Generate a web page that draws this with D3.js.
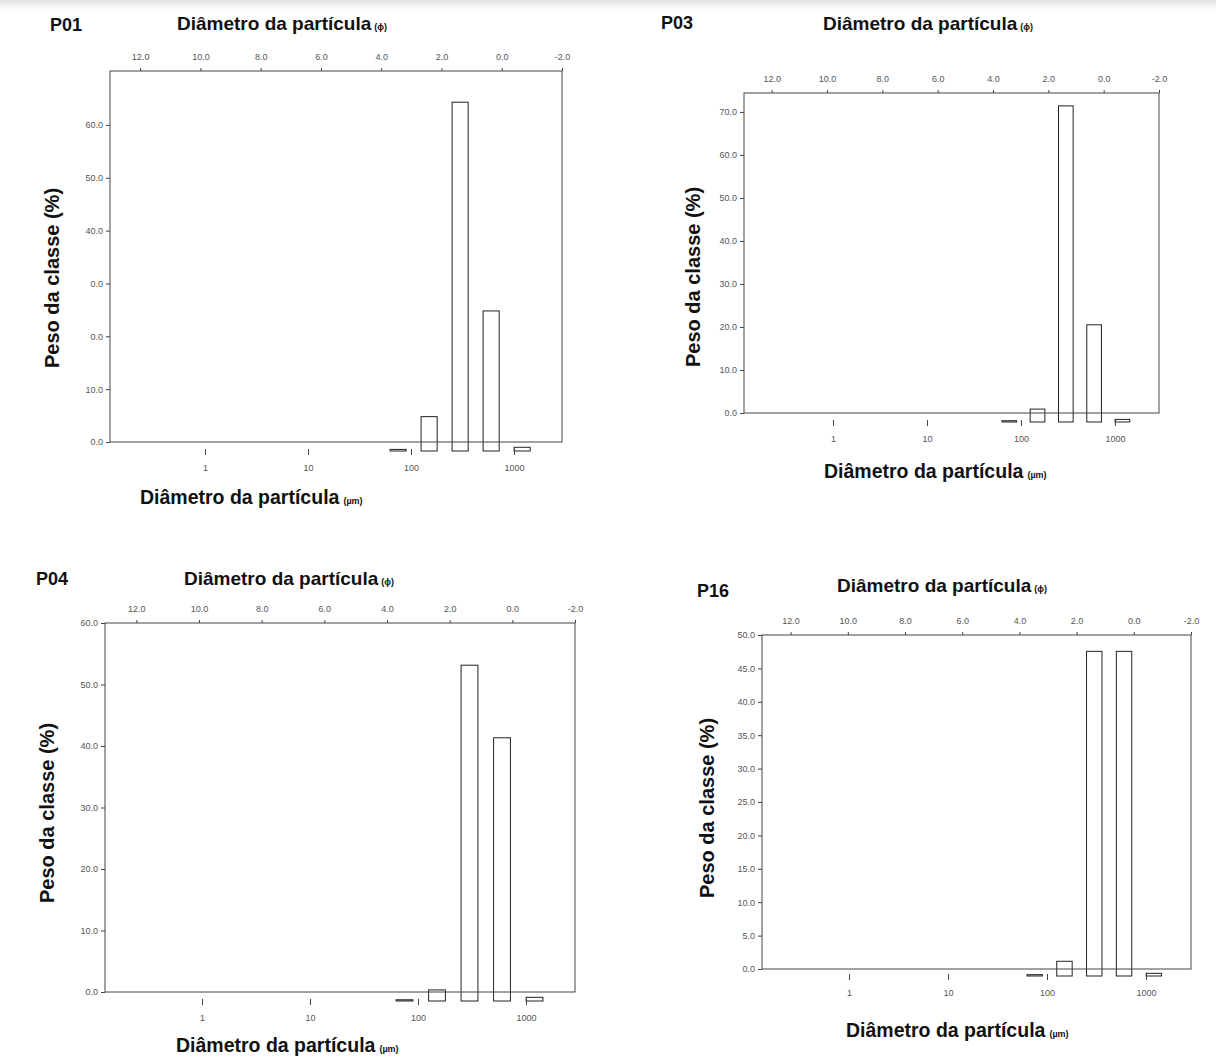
<!DOCTYPE html>
<html><head><meta charset="utf-8">
<script src="https://cdn.jsdelivr.net/npm/d3@7"></script>
<style>
body{margin:0;background:#fff;}
svg{display:block;}
.tick text{font-family:"Liberation Sans",Arial,sans-serif;font-size:9px;fill:#555;}
.ttl{font-family:"Liberation Sans",Arial,sans-serif;font-weight:bold;fill:#111;}
</style></head><body>
<svg id="c" width="1216" height="1057"></svg>
<script>
// ---------- data ----------
const panelNames = ["P01", "P03", "P04", "P16"];
const classCentersUm = [75, 150, 300, 600, 1200];
const valuesP01 = [0.3, 6.5, 66.0, 26.5, 0.7];
const valuesP03 = [0.3, 3.0, 73.5, 22.6, 0.6];
const valuesP04 = [0.2, 1.8, 54.6, 42.8, 0.6];
const valuesP16 = [0.2, 2.2, 48.6, 48.6, 0.4];
const phiTicks = [12, 10, 8, 6, 4, 2, 0, -2];
const phiDomain = [13, -2];
const umTicks = [1, 10, 100, 1000];
const umTickLabels = ["1", "10", "100", "1000"];
const yTicksP01 = [0, 10, 20, 30, 40, 50, 60];
const yTickLabelsP01 = ["0.0", "10.0", "0.0", "0.0", "40.0", "50.0", "60.0"];
const yTicksP03 = [0, 10, 20, 30, 40, 50, 60, 70];
const yTicksP04 = [0, 10, 20, 30, 40, 50, 60];
const yTicksP16 = [0, 5, 10, 15, 20, 25, 30, 35, 40, 45, 50];
const yMaxes = [70.2, 74.4, 60, 50];
const topTitle = "Diâmetro da partícula";
const phiUnit = "(ɸ)";
const bottomTitle = "Diâmetro da partícula";
const umUnit = "(µm)";
const yTitle = "Peso da classe (%)";

const fmt1 = d => d.toFixed(1);
const panels = [
  {name: panelNames[0], values: valuesP01, yTicks: yTicksP01, yLabels: yTickLabelsP01, yMax: yMaxes[0]},
  {name: panelNames[1], values: valuesP03, yTicks: yTicksP03, yLabels: yTicksP03.map(fmt1), yMax: yMaxes[1]},
  {name: panelNames[2], values: valuesP04, yTicks: yTicksP04, yLabels: yTicksP04.map(fmt1), yMax: yMaxes[2]},
  {name: panelNames[3], values: valuesP16, yTicks: yTicksP16, yLabels: yTicksP16.map(fmt1), yMax: yMaxes[3]}
];

// ---------- layout (pixels / styles) ----------
const layout = {
  P01: {left:110, right:562, top:71, bottom:442, barOffset:9, umDomain:[0.1197, 2924],
        label:[50,31], title:[177,30], yTitle:[52,278], xTitle:[140,504]},
  P03: {left:744, right:1159, top:93, bottom:413, barOffset:9, umDomain:[0.113, 2941],
        label:[661,29], title:[823,30], yTitle:[693,277], xTitle:[824,478]},
  P04: {left:105, right:575, top:623, bottom:992, barOffset:9, umDomain:[0.1264, 2844],
        label:[36,585], title:[184,585], yTitle:[47,813], xTitle:[176,1052]},
  P16: {left:762, right:1191, top:635, bottom:969, barOffset:7, umDomain:[0.132, 2848],
        label:[697,597], title:[837,592], yTitle:[707,808], xTitle:[846,1037]}
};
const barHalf = Math.pow(10, 0.078);

const svg = d3.select("#c");
const defs = svg.append("defs");
const gr = defs.append("linearGradient").attr("id","band").attr("x1",0).attr("y1",0).attr("x2",0).attr("y2",1);
gr.append("stop").attr("offset","0%").attr("stop-color","#e2e2e2");
gr.append("stop").attr("offset","100%").attr("stop-color","#ffffff");
svg.append("rect").attr("x",0).attr("y",0).attr("width",1216).attr("height",10).attr("fill","url(#band)");

panels.forEach(p => {
  const L = layout[p.name];
  const y = d3.scaleLinear().domain([0, p.yMax]).range([L.bottom, L.top]);
  const yBar = d3.scaleLinear().domain([0, p.yMax]).range([L.bottom + L.barOffset, L.top + L.barOffset]);
  const xPhi = d3.scaleLinear().domain(phiDomain).range([L.left, L.right]);
  const xUm = d3.scaleLog().domain(L.umDomain).range([L.left, L.right]);
  const G = svg.append("g").attr("color", "#444");

  // bars
  G.selectAll("rect.bar")
    .data(p.values.map((v, i) => ({v, c: classCentersUm[i]})))
    .join("rect").attr("class", "bar")
    .attr("x", d => xUm(d.c / barHalf))
    .attr("width", d => xUm(d.c * barHalf) - xUm(d.c / barHalf))
    .attr("y", d => yBar(d.v))
    .attr("height", d => yBar(0) - yBar(d.v))
    .attr("fill", "none").attr("stroke", "#222").attr("stroke-width", 1);

  // frame
  G.append("rect").attr("x", L.left).attr("y", L.top)
    .attr("width", L.right - L.left).attr("height", L.bottom - L.top)
    .attr("fill", "none").attr("stroke", "#444").attr("stroke-width", 1);

  // left axis
  const ay = G.append("g").attr("transform", `translate(${L.left},0)`)
    .call(d3.axisLeft(y).tickValues(p.yTicks).tickSize(4).tickPadding(3)
      .tickFormat((d, i) => p.yLabels[i]));
  ay.select(".domain").remove();

  // top phi axis
  const at = G.append("g").attr("transform", `translate(0,${L.top})`)
    .call(d3.axisTop(xPhi).tickValues(phiTicks).tickSize(3).tickPadding(8).tickFormat(fmt1));
  at.select(".domain").remove();

  // bottom micrometre axis
  const ab = G.append("g").attr("transform", `translate(0,${L.bottom + L.barOffset - 2})`)
    .call(d3.axisBottom(xUm).tickValues(umTicks).tickSize(6).tickPadding(10)
      .tickFormat((d, i) => umTickLabels[i]));
  ab.select(".domain").remove();

  // texts
  G.append("text").attr("class", "ttl").attr("x", L.label[0]).attr("y", L.label[1])
    .attr("font-size", 18).text(p.name);
  const t = G.append("text").attr("class", "ttl").attr("x", L.title[0]).attr("y", L.title[1])
    .attr("font-size", 19);
  t.append("tspan").text(topTitle);
  t.append("tspan").attr("font-size", 9).attr("dx", 3).text(phiUnit);

  const b = G.append("text").attr("class", "ttl").attr("x", L.xTitle[0]).attr("y", L.xTitle[1])
    .attr("font-size", 19.5);
  b.append("tspan").text(bottomTitle);
  b.append("tspan").attr("font-size", 9).attr("dx", 4).text(umUnit);

  G.append("text").attr("class", "ttl").attr("font-size", 20)
    .attr("text-anchor", "middle").attr("dominant-baseline", "central")
    .attr("transform", `translate(${L.yTitle[0]},${L.yTitle[1]}) rotate(-90)`)
    .text(yTitle);
});
</script>
</body></html>
